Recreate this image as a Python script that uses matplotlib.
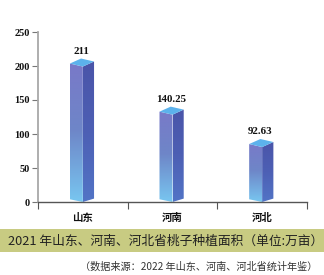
import numpy as np
import matplotlib.pyplot as plt
from matplotlib.patches import Polygon, Rectangle
from matplotlib.colors import LinearSegmentedColormap

categories = ['山东', '河南', '河北']
values = [211, 140.25, 92.63]
value_labels = ['211', '140.25', '92.63']
yticks = [0, 50, 100, 150, 200, 250]
title = '2021 年山东、河南、河北省桃子种植面积（单位:万亩）'
source = '（数据来源：2022 年山东、河南、河北省统计年鉴）'

W, H = 324, 275
fig = plt.figure(figsize=(W / 100, H / 100), dpi=100)
ax = fig.add_axes([38 / W, 1 - 202 / H, (307 - 38) / W, 170 / H])
ax.set_xlim(-0.5, 2.5)
ax.set_ylim(0, 250)

front_cmap = LinearSegmentedColormap.from_list('f', ['#7a78c8', '#6e86c8', '#78c6f0'])
side_cmap = LinearSegmentedColormap.from_list('s', ['#4a54a8', '#4d5fb4', '#5274c6'])
grad = np.linspace(0, 1, 256).reshape(-1, 1)

wl, wr, bx = 0.145, 0.125, -0.02
dl, df, dr = 7.4, 11.8, 4.4
bl, br = 4.0, 5.0

for i, v in enumerate(values):
    xl, xf, xr, xb = i - wl, i, i + wr, i + bx
    left_face = [(xl, bl), (xf, 0), (xf, v - df), (xl, v - dl)]
    right_face = [(xf, 0), (xr, br), (xr, v - dr), (xf, v - df)]
    top_face = [(xl, v - dl), (xf, v - df), (xr, v - dr), (xb, v)]
    for pts, cmap, x0, x1 in [(left_face, front_cmap, xl, xf), (right_face, side_cmap, xf, xr)]:
        poly = Polygon(pts, closed=True, facecolor='none', edgecolor='none')
        ax.add_patch(poly)
        im = ax.imshow(grad, cmap=cmap, aspect='auto', extent=(x0, x1, 0, v), origin='upper',
                       interpolation='bilinear', zorder=2)
        im.set_clip_path(poly)
    ax.add_patch(Polygon(top_face, closed=True, facecolor='#5cb2ec', edgecolor='none', zorder=3))
    ax.text(xb, v + 4, value_labels[i], ha='center', va='bottom', fontsize=7.8,
            fontweight='bold', family='Liberation Serif', color='#111111')

ax.set_xlim(-0.5, 2.5)
ax.set_ylim(0, 250)

for s in ['top', 'right']:
    ax.spines[s].set_visible(False)
ax.spines['left'].set_color('#a8a8a8')
ax.spines['left'].set_linewidth(1.3)
ax.spines['bottom'].set_color('#555555')
ax.spines['bottom'].set_linewidth(1.0)

ax.set_yticks(yticks)
ax.set_yticklabels([str(t) for t in yticks], fontsize=7.5, fontweight='bold',
                   family='Liberation Serif', color='#111111')
ax.tick_params(axis='y', length=4, width=0.8, color='#777777', pad=2)

ax.set_xticks(range(len(categories)))
ax.set_xticklabels(categories, fontsize=7.5, fontweight='bold',
                   family=['Noto Sans CJK SC', 'DejaVu Sans'], color='#111111')
ax.tick_params(axis='x', which='major', length=0, pad=8)
ax.set_xticks([-0.5, 0.5, 1.5, 2.5], minor=True)
ax.tick_params(axis='x', which='minor', length=5, width=0.8, color='#555555', direction='out')

fig.patches.append(Rectangle((0, 1 - 252 / H), 1, 23 / H, transform=fig.transFigure,
                             facecolor='#c8cb82', edgecolor='none', zorder=0))
fig.text(8 / W, 1 - 241 / H, title, fontsize=9.2, va='center', ha='left',
         family=['Noto Sans CJK SC', 'DejaVu Sans'], color='#222222')
fig.text(80 / W, 1 - 267 / H, source, fontsize=7.3, va='center', ha='left',
         family=['Noto Sans CJK SC', 'DejaVu Sans'], color='#333333')

fig.savefig('out.png', dpi=100)
